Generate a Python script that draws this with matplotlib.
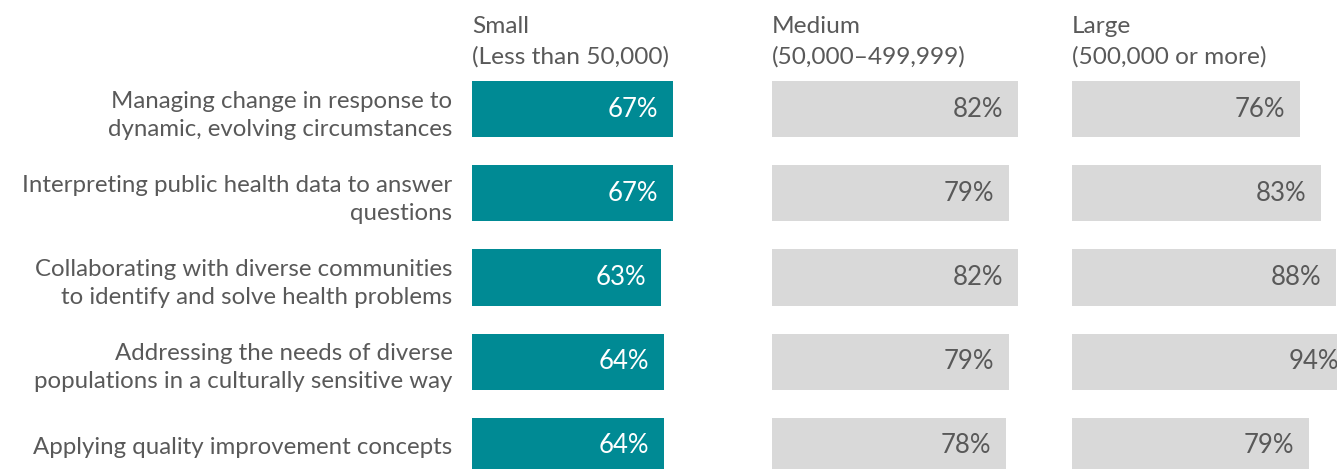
import matplotlib
matplotlib.use("Agg")
import matplotlib.pyplot as plt

categories = [
    "Managing change in response to\ndynamic, evolving circumstances",
    "Interpreting public health data to answer\nquestions",
    "Collaborating with diverse communities\nto identify and solve health problems",
    "Addressing the needs of diverse\npopulations in a culturally sensitive way",
    "Applying quality improvement concepts",
]
panel_titles = [
    "Small\n(Less than 50,000)",
    "Medium\n(50,000\u2013499,999)",
    "Large\n(500,000 or more)",
]
small = [67, 67, 63, 64, 64]
medium = [82, 79, 82, 79, 78]
large = [76, 83, 88, 94, 79]
series = [small, medium, large]

W, H = 1337, 469
plt.rcParams['font.family'] = ['Lato', 'DejaVu Sans']
TXT = '#595959'
TEAL = '#008A94'
GRAY = '#D9D9D9'

fig = plt.figure(figsize=(W / 100, H / 100), dpi=100)
fig.patch.set_facecolor('white')

lefts = [472, 772, 1072]
top_px, row_px = 67.5, 84
n = len(categories)
ax_h = n * row_px
for i, (vals, title, lx) in enumerate(zip(series, panel_titles, lefts)):
    ax = fig.add_axes([lx / W, (H - top_px - ax_h) / H, 300 / W, ax_h / H])
    ax.set_xlim(0, 100)
    ax.set_ylim(n - 0.5, -0.5)
    ypos = list(range(n))
    color = TEAL if i == 0 else GRAY
    tcolor = 'white' if i == 0 else TXT
    ax.barh(ypos, vals, height=56 / row_px, color=color, edgecolor='none')
    for y, v in zip(ypos, vals):
        ax.text(v - 5.0, y, f"{v}%", ha='right', va='center', fontsize=18.5,
                color=tcolor)
    for s in ax.spines.values():
        s.set_visible(False)
    ax.set_xticks([])
    if i == 0:
        ax.set_yticks(ypos)
        ax.set_yticklabels(categories, fontsize=17.3, color=TXT,
                           linespacing=1.45)
        ax.tick_params(axis='y', length=0, pad=14)
    else:
        ax.set_yticks([])
    fig.text(lx / W, 1 - 16 / H, title, ha='left', va='top', fontsize=17.6,
             color=TXT, linespacing=1.52)

fig.savefig('out.png', dpi=100, facecolor='white')
